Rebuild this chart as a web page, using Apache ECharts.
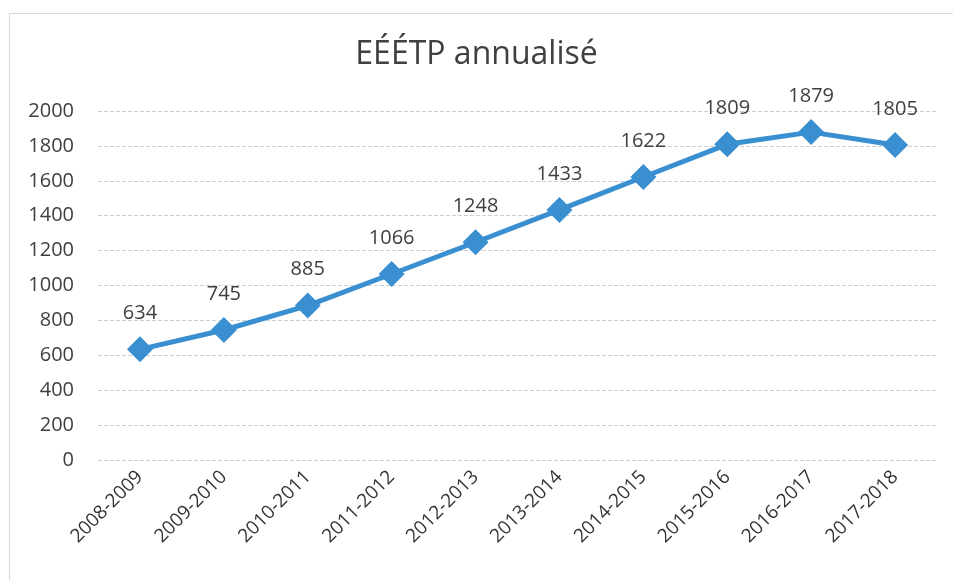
<!DOCTYPE html>
<html>
<head>
    <meta charset="utf-8">
    <title>EÉÉTP annualisé</title>
    <script src="https://cdn.jsdelivr.net/npm/echarts@6/dist/echarts.min.js"></script>
</head>
<body style="margin:0;background:#fff;">
    <div id="main" style="width:953px;height:580px;"></div>
    <script type="text/javascript">
        var years = ['2008-2009', '2009-2010', '2010-2011', '2011-2012', '2012-2013',
            '2013-2014', '2014-2015', '2015-2016', '2016-2017', '2017-2018'];
        var eeetp = [634, 745, 885, 1066, 1248, 1433, 1622, 1809, 1879, 1805];

        var myChart = echarts.init(document.getElementById('main'));
        var font = 'Open Sans';

        var option = {
            backgroundColor: '#fff',
            // thin frame of the original chart area (right/bottom run off the page)
            graphic: [{
                type: 'rect',
                shape: { x: 9.5, y: 13.5, width: 960, height: 620 },
                style: { fill: 'none', stroke: '#d9d9d9', lineWidth: 1 },
                silent: true
            }],
            title: {
                text: 'EÉÉTP annualisé',
                left: 'center',
                top: 34,
                textStyle: { fontFamily: font, fontSize: 32, fontWeight: 'normal', color: '#404040' }
            },
            grid: { left: 98, right: 16, top: 111, bottom: 120 },
            xAxis: {
                type: 'category',
                data: years,
                boundaryGap: true,
                axisLine: { show: false },
                axisTick: { show: false },
                axisLabel: { rotate: 45, margin: 14, fontFamily: font, fontSize: 19, color: '#333' }
            },
            yAxis: {
                type: 'value',
                min: 0,
                max: 2000,
                interval: 200,
                axisLabel: {
                    margin: 24, fontFamily: font, fontSize: 20, color: '#404040',
                    formatter: function (v) { return String(v); }
                },
                splitLine: { lineStyle: { color: '#cfcfcf', type: 'dashed', width: 1 } }
            },
            series: [{
                type: 'line',
                data: eeetp,
                symbol: 'diamond',
                symbolSize: 26,
                lineStyle: { color: '#3a8fd1', width: 5 },
                itemStyle: { color: '#3a8fd1' },
                label: {
                    show: true,
                    position: 'top',
                    distance: 13,
                    fontFamily: font,
                    fontSize: 20,
                    color: '#404040'
                }
            }]
        };

        myChart.setOption(option);
    </script>
</body>
</html>
